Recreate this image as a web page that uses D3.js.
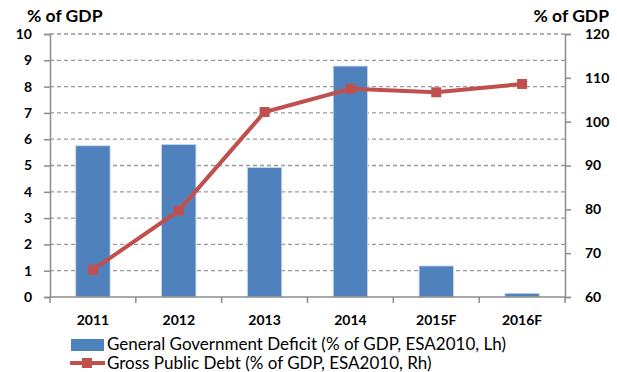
<!DOCTYPE html>
<html>
<head>
<meta charset="utf-8">
<script src="https://cdn.jsdelivr.net/npm/d3@7"></script>
<style>
body { margin: 0; background: #fff; }
text { font-family: Lato, "Open Sans", sans-serif; }
</style>
</head>
<body>
<svg width="617" height="372"></svg>
<script>
// data
var years = ["2011", "2012", "2013", "2014", "2015F", "2016F"];
var deficit = [5.75, 5.8, 4.92, 8.78, 1.18, 0.14];
var debt = [66.2, 79.7, 102.2, 107.5, 106.7, 108.6];
var leftTicks = [0, 1, 2, 3, 4, 5, 6, 7, 8, 9, 10];
var rightTicks = [60, 70, 80, 90, 100, 110, 120];
var legendNames = ["General Government Deficit (% of GDP, ESA2010, Lh)", "Gross Public Debt (% of GDP, ESA2010, Rh)"];

var svg = d3.select("svg");
var plotL = 50, plotR = 565, plotT = 34, plotB = 297;

var x = d3.scaleBand().domain(years).range([plotL, plotR]).paddingInner(0.6).paddingOuter(0.3);
var xb = d3.scaleBand().domain(years).range([plotL, plotR]);
var yL = d3.scaleLinear().domain([0, 10]).range([plotB, plotT]);
var yR = d3.scaleLinear().domain([60, 120]).range([plotB, plotT]);

// grid lines
svg.append("g").selectAll("line")
    .data(leftTicks.filter(function(d) { return d > 0; }))
    .enter().append("line")
    .attr("x1", plotL).attr("x2", plotR)
    .attr("y1", function(d) { return yL(d); })
    .attr("y2", function(d) { return yL(d); })
    .attr("stroke", "#999").attr("stroke-width", 1.3)
    .attr("stroke-dasharray", "4,3");

// bars
svg.append("g").selectAll("rect")
    .data(deficit)
    .enter().append("rect")
    .attr("x", function(d, i) { return x(years[i]); })
    .attr("width", x.bandwidth())
    .attr("y", function(d) { return yL(d); })
    .attr("height", function(d) { return plotB - yL(d); })
    .attr("fill", "#4F81BD")
    .attr("stroke", "#c9d7ea").attr("stroke-width", 0.8);

// left axis
var axL = svg.append("g").attr("transform", "translate(" + plotL + ",0)")
    .call(d3.axisLeft(yL).tickValues(leftTicks).tickSize(6).tickPadding(12));
// right axis
var axR = svg.append("g").attr("transform", "translate(" + plotR + ",0)")
    .call(d3.axisRight(yR).tickValues(rightTicks).tickSize(6).tickPadding(14));
// x axis
var axX = svg.append("g").attr("transform", "translate(0," + plotB + ")")
    .call(d3.axisBottom(xb).tickSize(0).tickPadding(18));
axX.selectAll(".tick").append("line")
    .attr("x1", xb.bandwidth() / 2).attr("x2", xb.bandwidth() / 2)
    .attr("y1", 0).attr("y2", 6);
axX.append("line").attr("x1", plotL).attr("x2", plotL).attr("y1", 0).attr("y2", 6);

[axL, axR, axX].forEach(function(a) {
  a.selectAll(".domain").attr("stroke", "#8c8c8c").attr("stroke-width", 1.5);
  a.selectAll("line").attr("stroke", "#8c8c8c").attr("stroke-width", 1.5);
  a.selectAll("text").attr("font-family", "Lato, sans-serif")
    .attr("font-size", 14).attr("font-weight", "bold").attr("fill", "#000");
});
axX.select(".domain").remove();
axX.append("line").attr("x1", plotL).attr("x2", plotR).attr("y1", 0).attr("y2", 0)
    .attr("stroke", "#8c8c8c").attr("stroke-width", 1.5);

// debt line
var line = d3.line()
    .x(function(d, i) { return xb(years[i]) + xb.bandwidth() / 2; })
    .y(function(d) { return yR(d); });
svg.append("path").datum(debt)
    .attr("d", line)
    .attr("fill", "none").attr("stroke", "#C0504D").attr("stroke-width", 4);
svg.append("g").selectAll("rect")
    .data(debt)
    .enter().append("rect")
    .attr("x", function(d, i) { return xb(years[i]) + xb.bandwidth() / 2 - 5; })
    .attr("y", function(d) { return yR(d) - 5; })
    .attr("width", 10).attr("height", 10)
    .attr("fill", "#C0504D");

// axis titles
svg.append("text").attr("x", 27).attr("y", 22).text("% of GDP")
    .attr("font-size", 17.5).attr("font-weight", "bold");
svg.append("text").attr("x", 609).attr("y", 22).attr("text-anchor", "end").text("% of GDP")
    .attr("font-size", 17.5).attr("font-weight", "bold");

// legend
var lg = svg.append("g");
lg.append("rect").attr("x", 71).attr("y", 339).attr("width", 33).attr("height", 12).attr("fill", "#4F81BD");
lg.append("line").attr("x1", 70).attr("x2", 105).attr("y1", 363).attr("y2", 363)
    .attr("stroke", "#C0504D").attr("stroke-width", 4);
lg.append("rect").attr("x", 82).attr("y", 358).attr("width", 10).attr("height", 10).attr("fill", "#C0504D");
lg.selectAll("text.lg").data(legendNames).enter().append("text")
    .attr("class", "lg")
    .attr("x", 107)
    .attr("y", function(d, i) { return 350 + i * 19; })
    .attr("font-size", 17)
    .text(function(d) { return d; });
</script>
</body>
</html>
